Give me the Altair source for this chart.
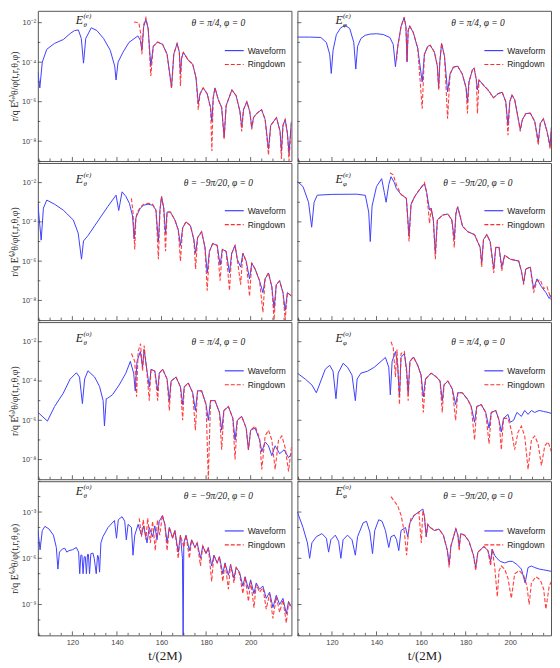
import altair as alt
import pandas as pd

BLUE = "#4040ff"
RED = "#ff2a2a"
TICK = "#444444"
SERIF = "Liberation Serif"
SANS = "Liberation Sans"

# ---------------- data: (t/(2M), log10 |E|) ----------------
P1_WAVE = [(104.5,-4.5),(105.4,-5.3),(106.5,-4.0),(108.5,-3.35),(112,-3.05),(116,-2.85),(119,-2.55),(121,-2.4),
 (122.7,-2.37),(124,-2.8),(125,-4.05),(126,-2.8),(128.5,-2.26),(131,-2.4),(134,-2.8),(137,-3.4),(139,-4.2),(139.6,-4.9),
 (140.5,-4.0),(142.7,-3.5),(145.4,-3.0),(149.4,-2.67),(150.5,-2.9),(151.2,-3.4),(152,-2.2),(153,-1.84),(154,-2.3),
 (155.2,-4.2),(156.3,-3.2),(158.2,-2.98),(160.5,-3.1),(162.5,-3.6),(164.5,-5.27),(165.5,-3.6),(167,-3.05),(168,-3.5),
 (168.5,-4.6),(169,-3.8),(169.8,-3.5),(172,-3.9),(174,-4.1),(175.5,-4.8),(176.5,-6.1),(177.3,-5.6),(178.7,-5.3),
 (180.5,-5.6),(182,-6.3),(182.6,-7.0),(183.2,-5.8),(184,-5.3),(185.5,-5.9),(187,-6.3),(188.1,-7.8),(189,-6.2),
 (191.6,-5.4),(193.5,-5.7),(195.2,-6.5),(196,-7.3),(196.8,-6.4),(198.3,-6.0),(199.6,-6.5),(200.5,-7.3),(201.3,-6.8),
 (202.7,-6.6),(204.9,-6.4),(206.5,-6.9),(208,-8.4),(209,-7.2),(211.6,-6.8),(213.2,-7.5),(213.8,-8.5),(214.5,-7.2),
 (215.5,-6.9),(216.5,-7.6),(217.2,-8.6),(218.3,-7.0)]
P1_RING = [(147.6,-1.97),(149.8,-2.0),(150.6,-2.5),(151.2,-3.6),(152,-2.1),(153,-1.75),(154,-2.3),(155.2,-4.7),
 (156.3,-3.2),(158.2,-2.98),(160.5,-3.1),(162.5,-3.6),(164.5,-5.35),(165.5,-3.6),(167,-3.05),(168,-3.5),(168.5,-5.2),
 (169,-3.8),(169.8,-3.5),(172,-3.9),(174,-4.1),(175.5,-4.8),(176.5,-6.4),(177.3,-5.6),(178.7,-5.3),(180.5,-5.6),
 (182,-6.3),(182.6,-8.5),(183.2,-5.8),(184,-5.3),(185.5,-5.9),(187,-6.3),(188.1,-7.9),(189,-6.2),(191.6,-5.4),
 (193.5,-5.7),(195.2,-6.5),(196,-7.5),(196.8,-6.4),(198.3,-6.0),(199.6,-6.5),(200.5,-7.4),(201.3,-6.8),(202.7,-6.6),
 (204.9,-6.4),(206.5,-6.9),(208,-8.7),(209,-7.2),(211.6,-6.8),(213.2,-7.5),(213.8,-8.9),(214.5,-7.2),(215.5,-6.9),
 (216.5,-7.6),(217.2,-9.0),(218.3,-7.0)]

P2_WAVE = [(104.5,-2.73),(110,-2.73),(115,-2.75),(117.5,-3.0),(119.0,-3.6),(119.7,-4.57),(120.5,-3.4),(122,-2.6),
 (124,-2.25),(126,-2.14),(128,-2.3),(129.8,-3.0),(130.7,-4.35),(131.5,-3.2),(133,-2.8),(134.9,-2.64),(137,-2.58),
 (140.1,-2.56),(143,-2.6),(146,-2.75),(147.5,-3.1),(148.5,-4.23),(149.5,-3.2),(151,-2.2),(152.4,-1.75),(153.2,-2.2),
 (153.7,-3.98),(154.2,-2.4),(154.9,-2.17),(156.5,-2.5),(158.5,-3.3),(160.5,-5.0),(161.5,-3.6),(163,-3.2),(164.1,-3.14),
 (166,-3.5),(167.3,-4.2),(167.9,-5.32),(168.4,-4.0),(169.2,-3.05),(170.5,-3.7),(171.9,-5.5),(173,-4.6),(174.5,-4.25),
 (176.4,-4.2),(178.5,-4.6),(180.2,-5.3),(180.8,-6.0),(181.5,-5.0),(183,-4.4),(183.8,-4.3),(184.8,-4.9),(185.3,-5.4),
 (186,-4.9),(188.2,-5.19),(190,-5.4),(192.5,-5.8),(194.5,-5.6),(196.4,-5.52),(198,-6.0),(199,-7.2),(199.8,-6.0),
 (200.8,-5.66),(202,-5.9),(203.5,-6.8),(204.5,-7.4),(205.5,-6.9),(207,-6.6),(209,-6.58),(211,-7.0),(212.6,-8.0),
 (213.5,-7.1),(214.9,-6.86),(216.5,-7.5),(217.9,-8.2),(218.5,-7.3)]
P2_RING = [(149.0,-3.9),(149.6,-3.2),(151,-2.2),(152.4,-1.72),(153.2,-2.2),(153.7,-4.0),(154.2,-2.4),(154.9,-2.17),
 (156.5,-2.5),(158.5,-3.3),(160.5,-6.36),(161.5,-3.6),(163,-3.2),(164.1,-3.14),(166,-3.5),(167.3,-4.2),(167.9,-5.4),
 (168.4,-4.0),(169.2,-3.05),(170.5,-3.7),(171.9,-6.86),(173,-4.6),(174.5,-4.25),(176.4,-4.2),(178.5,-4.6),(180.2,-5.3),
 (180.8,-6.6),(181.5,-5.0),(183,-4.4),(183.8,-4.3),(184.8,-4.9),(185.3,-6.6),(186,-4.9),(188.2,-5.19),(190,-5.4),
 (192.5,-5.8),(194.5,-5.6),(196.4,-5.52),(198,-6.0),(199,-7.7),(199.8,-6.0),(200.8,-5.66),(202,-5.9),(203.5,-6.8),
 (204.5,-7.5),(205.5,-6.9),(207,-6.6),(209,-6.58),(211,-7.0),(212.6,-8.2),(213.5,-7.1),(214.9,-6.86),(216.5,-7.5),
 (217.9,-8.4),(218.5,-7.3)]

P3_WAVE = [(104.5,-3.06),(106,-4.93),(107,-3.3),(108.5,-2.89),(112,-3.1),(115.9,-3.4),(120.4,-3.9),(122.6,-4.57),
 (124.1,-5.9),(125,-4.97),(127,-4.7),(130,-4.2),(133,-3.7),(136,-3.2),(139.6,-2.64),(140.8,-3.42),(142.3,-2.47),
 (144,-2.7),(145.6,-3.06),(147,-3.7),(147.7,-4.87),(148.5,-3.8),(149.2,-3.6),(150.5,-3.3),(152,-3.15),(154,-3.1),
 (156,-3.15),(157.5,-3.4),(158.6,-5.0),(159.3,-3.4),(160,-2.72),(161,-3.3),(161.8,-4.6),(162.5,-3.5),(164,-3.5),
 (166,-3.9),(167.5,-4.4),(168.5,-5.2),(169.5,-4.3),(171,-4.0),(173,-4.2),(174.5,-4.9),(175.3,-5.6),(176.2,-4.8),
 (178,-4.5),(179.5,-5.3),(180.5,-6.6),(181.5,-5.5),(183,-5.1),(185,-5.2),(186.3,-6.2),(187.3,-5.4),(189,-5.5),
 (190.5,-6.6),(191.5,-5.6),(193,-5.2),(194,-5.9),(195.5,-6.3),(196.5,-5.6),(198,-6.0),(199.5,-6.9),(200.5,-6.1),
 (202,-6.4),(204,-7.0),(205.5,-7.6),(206.5,-6.9),(208,-6.6),(209.5,-7.3),(210.5,-8.4),(211.5,-7.2),(213,-7.0),
 (214.5,-7.6),(215.5,-8.5),(216.5,-7.6),(218.5,-7.8)]
P3_RING = [(146.5,-2.8),(147.2,-3.5),(148,-5.4),(148.5,-3.8),(149.2,-3.5),(150.5,-3.25),(152,-3.1),(154,-3.05),
 (156,-3.1),(157.5,-3.4),(158.6,-5.9),(159.3,-3.4),(160,-2.7),(161,-3.3),(161.8,-5.5),(162.5,-3.5),(164,-3.5),
 (166,-3.9),(167.5,-4.4),(168.5,-6.0),(169.5,-4.3),(171,-4.0),(173,-4.2),(174.5,-4.9),(175.3,-6.4),(176.2,-4.8),
 (178,-4.5),(179.5,-5.3),(180.5,-7.5),(181.5,-5.5),(183,-5.1),(185,-5.2),(186.3,-7.0),(187.3,-5.4),(189,-5.5),
 (190.5,-7.5),(191.5,-5.6),(193,-5.2),(194,-5.9),(195.5,-7.2),(196.5,-5.6),(198,-6.0),(199.5,-7.8),(200.5,-6.1),
 (202,-6.4),(204,-7.0),(205.5,-8.6),(206.5,-6.9),(208,-6.6),(209.5,-7.3),(210.5,-9.0),(211.5,-7.2),(213,-7.0),
 (214.5,-7.6),(215.5,-9.0),(216.5,-7.6),(218.5,-7.8)]

P4_WAVE = [(104.5,-1.94),(107,-2.2),(109.5,-3.0),(110.9,-4.27),(112,-3.0),(113.4,-2.64),(120,-2.6),(131.2,-2.59),
 (135,-2.65),(136.5,-3.5),(137.2,-5.0),(138,-3.2),(140,-2.2),(142.3,-1.8),(143.5,-2.5),(144.3,-3.0),(145.5,-2.1),
 (146.5,-1.7),(148,-2.0),(148.9,-2.3),(151,-2.6),(153.4,-2.8),(154.6,-4.73),(155.5,-3.1),(157.1,-2.72),(159,-2.4),
 (161.5,-2.06),(162.5,-2.5),(163.8,-3.4),(164.5,-3.3),(165.5,-3.9),(166.4,-5.6),(167.3,-3.9),(169.7,-3.65),(172,-3.6),
 (173.8,-3.9),(174.9,-4.9),(175.6,-3.6),(176.4,-3.23),(177.5,-3.7),(178.6,-4.23),(181,-4.5),(184,-4.65),(186.5,-5.3),
 (187.2,-6.1),(188,-4.9),(189.5,-4.65),(191,-5.0),(192.6,-6.4),(193.5,-5.3),(195,-5.3),(196.2,-6.3),(197.5,-5.7),
 (200,-5.9),(203.8,-5.99),(205,-6.5),(206,-7.1),(207,-6.4),(209,-6.3),(210.5,-7.4),(212,-6.9),(214,-7.3),(216,-7.6),
 (217.5,-7.9),(218.5,-7.7)]
P4_RING = [(146.0,-1.5),(147.5,-1.6),(148.9,-2.1),(151,-2.6),(153.4,-2.8),(154.6,-5.0),(155.5,-3.1),(157.1,-2.72),
 (159,-2.4),(161.5,-2.0),(162.5,-2.5),(163.8,-4.07),(164.5,-3.3),(165.5,-3.9),(166.4,-5.9),(167.3,-3.9),(169.7,-3.65),
 (172,-3.6),(173.8,-3.9),(174.9,-5.3),(175.6,-3.6),(176.4,-3.23),(177.5,-3.7),(178.6,-4.23),(181,-4.5),(184,-4.65),
 (186.5,-5.3),(187.2,-6.3),(188,-4.9),(189.5,-4.65),(191,-5.0),(192.6,-6.6),(193.5,-5.3),(195,-5.3),(196.2,-6.5),
 (197.5,-5.7),(200,-5.9),(203.8,-5.99),(205,-6.5),(206,-7.2),(207,-6.4),(209,-6.3),(210.5,-7.6),(212,-7.0),
 (213.5,-6.95),(215,-7.4),(216.5,-7.3),(218.5,-8.0)]

P5_WAVE = [(104.5,-5.59),(108.8,-6.04),(112,-5.3),(115.9,-4.62),(119,-3.9),(121.8,-3.58),(123.2,-3.8),(124.5,-5.15),
 (125.5,-3.9),(127,-3.48),(130,-3.8),(132.2,-4.28),(133.8,-5.0),(134.4,-6.29),(135.2,-4.9),(135.9,-4.87),(138,-4.7),
 (141,-4.2),(144,-3.6),(146,-3.0),(147.5,-3.6),(148.2,-4.5),(149,-3.0),(150.5,-2.5),(151.5,-3.3),(152.2,-2.4),
 (153.5,-3.5),(154.5,-4.3),(155.3,-3.4),(157.0,-3.5),(158.3,-4.5),(159,-3.6),(160.5,-3.4),(162.5,-3.9),(163.5,-5.0),
 (164.3,-4.0),(166.5,-3.8),(168.5,-4.3),(169.5,-5.2),(170.2,-4.3),(172,-4.1),(174,-4.6),(175.2,-5.5),(176.2,-4.5),
 (178,-4.5),(180,-5.2),(181,-6.0),(182,-5.0),(184,-5.0),(186,-5.6),(187,-6.5),(188,-5.5),(190,-5.3),(192,-5.9),
 (193,-7.0),(194,-6.0),(196,-5.8),(198,-6.4),(199,-7.5),(200,-6.5),(202,-6.4),(204,-7.0),(205,-7.6),(206.5,-7.1),
 (208,-7.3),(209.5,-7.8),(211,-7.3),(213,-7.7),(215,-7.5),(217,-7.9),(218.5,-7.7)]
P5_RING = [(146.5,-2.6),(148,-3.0),(148.8,-4.8),(149.5,-2.5),(150.6,-2.1),(151.5,-3.5),(152.2,-2.2),(153.5,-3.6),
 (154.5,-5.0),(155.3,-3.4),(157.0,-3.5),(158.3,-5.0),(159,-3.6),(160.5,-3.4),(162.5,-3.9),(163.5,-5.5),(164.3,-4.0),
 (166.5,-3.8),(168.5,-4.3),(169.5,-6.0),(170.2,-4.3),(172,-4.1),(174,-4.6),(175.2,-6.5),(176.2,-4.5),(178,-4.5),
 (180,-5.2),(181,-9.0),(182,-5.0),(184,-5.0),(186,-5.6),(187,-7.5),(188,-5.5),(190,-5.3),(192,-5.9),(193,-8.0),
 (194,-6.0),(196,-5.8),(198,-6.4),(199,-7.5),(200,-6.5),(202,-6.3),(204,-6.9),(205,-8.5),(206.5,-6.8),(208,-6.5),
 (209.5,-7.0),(211,-8.5),(212.5,-7.0),(214,-6.8),(215.5,-7.4),(217,-8.6),(218.5,-7.2)]

P6_WAVE = [(104.5,-3.6),(108,-3.9),(111,-4.2),(113,-4.6),(115,-4.0),(117,-3.4),(119,-3.2),(120.5,-3.5),(121.8,-4.9),
 (122.8,-3.6),(125,-3.1),(127,-3.3),(129,-3.7),(130.5,-5.0),(131.3,-3.9),(133,-3.6),(136,-3.5),(139,-3.3),(142,-3.0),
 (144,-2.8),(145.5,-3.3),(146.2,-4.7),(147,-3.0),(148.5,-2.5),(149.5,-3.2),(150.3,-4.8),(151,-2.8),(152.5,-2.6),
 (153.5,-3.4),(154.2,-4.6),(155,-3.0),(156.6,-2.78),(158.5,-3.2),(160,-3.7),(161,-4.8),(162,-3.9),(164.5,-3.6),
 (166.7,-3.78),(168.5,-4.0),(169.5,-5.0),(170.3,-4.2),(172,-4.0),(174,-4.4),(175.5,-5.2),(176.5,-4.6),(178.5,-4.6),
 (180.8,-4.92),(182.5,-5.3),(184,-6.1),(185,-5.3),(187,-5.2),(189,-5.6),(190.5,-6.4),(191.5,-5.6),(193.5,-5.5),
 (195,-6.0),(196,-6.6),(197,-5.9),(199,-5.7),(200,-6.1),(201.5,-6.0),(203,-5.6),(205,-5.8),(206.5,-5.5),(208,-5.7),
 (209.5,-5.5),(211,-5.6),(213,-5.5),(215,-5.55),(217,-5.6),(218.5,-5.65)]
P6_RING = [(146.5,-2.0),(147.5,-2.3),(148.5,-3.8),(149.2,-2.4),(150.3,-5.2),(151,-2.6),(152.5,-2.5),(153.5,-3.6),
 (154.2,-5.0),(155,-3.0),(156.6,-2.78),(158.5,-3.2),(160,-3.7),(161,-5.6),(162,-3.9),(164.5,-3.6),(166.7,-3.78),
 (168.5,-4.0),(169.5,-5.6),(170.3,-4.2),(172,-4.0),(174,-4.4),(175.5,-6.0),(176.5,-4.6),(178.5,-4.6),(180.8,-4.92),
 (182.5,-5.3),(184,-7.0),(185,-5.3),(187,-5.2),(189,-5.6),(190.5,-7.2),(191.5,-5.6),(193.5,-5.5),(195,-6.0),
 (196,-7.5),(197,-5.9),(199,-5.9),(200.5,-6.5),(202,-7.5),(203.5,-6.6),(205,-6.3),(206.5,-6.8),(208,-8.5),(209.5,-7.0),
 (211,-6.8),(212.5,-7.2),(214,-8.3),(215.5,-7.3),(217,-7.1),(218.5,-7.6)]

P7_WAVE = [(104.5,-4.18),(105.5,-5.45),(106.5,-4.2),(107.7,-3.93),(109.5,-4.1),(111.5,-4.5),(112.8,-5.3),(113.5,-6.7),
 (114.2,-5.6),(115.5,-5.4),(116.6,-5.35),(117.5,-5.6),(118.5,-5.5),(120,-5.45),(121.8,-5.3),(122.8,-5.6),(123.3,-7.0),
 (123.8,-5.8),(124.3,-5.8),(124.8,-7.0),(125.3,-5.9),(125.8,-5.9),(126.3,-7.0),(126.8,-5.75),(127.2,-5.75),(127.7,-7.0),
 (128.3,-5.7),(129.2,-5.66),(129.8,-6.0),(130.7,-7.0),(131.3,-5.8),(131.7,-5.9),(132.2,-6.9),(132.8,-5.0),(133.7,-4.6),
 (136,-4.0),(138.9,-3.55),(139.8,-4.7),(140.6,-3.5),(142.3,-3.3),(143.5,-3.6),(144.2,-4.8),(145,-3.8),(146.5,-4.0),
 (147.2,-5.8),(148,-4.5),(149.5,-3.8),(151,-4.5),(152,-3.9),(153.5,-5.0),(154.5,-4.0),(156,-4.6),(157,-3.9),(158,-4.8),
 (159,-3.6),(160.4,-3.23),(161.5,-3.8),(162.5,-5.0),(163.5,-4.0),(165,-4.7),(166,-4.2),(167.5,-5.6),(168.5,-4.5),
 (169.4,-6.0),(169.7,-11.5),(170,-5.0),(171,-4.5),(172.5,-5.5),(173.5,-4.8),(175,-5.3),(176,-5.0),(177.5,-6.0),
 (178.5,-5.2),(180,-5.7),(181,-5.3),(182.5,-6.5),(183.5,-5.8),(185,-6.3),(186,-5.9),(187.5,-7.0),(188.5,-6.3),
 (190,-7.1),(191,-6.4),(192.5,-7.3),(193.5,-6.6),(195,-6.9),(196.5,-7.8),(197.5,-7.2),(199,-8.0),(200,-7.4),
 (201.5,-8.3),(202.5,-7.6),(204,-8.0),(205.5,-7.8),(207,-8.6),(208.5,-8.2),(210,-9.2),(211.5,-8.4),(213,-9.0),
 (214.5,-8.6),(216,-9.6),(217,-8.8),(218.5,-9.2)]
P7_RING = [(150,-3.4),(151,-4.6),(151.8,-3.5),(153,-4.8),(153.8,-3.4),(155,-5.0),(156,-3.6),(157.2,-5.5),(158.2,-3.5),
 (159.2,-4.5),(160.4,-3.2),(161.5,-3.8),(162.5,-5.5),(163.5,-4.0),(165,-4.7),(166,-4.2),(167.5,-6.0),(168.5,-4.5),
 (170,-5.3),(171,-4.5),(172.5,-6.0),(173.5,-4.8),(175,-5.3),(176,-5.0),(177.5,-6.5),(178.5,-5.2),(180,-5.7),
 (181,-5.3),(182.5,-7.5),(183.5,-5.8),(185,-6.3),(186,-5.9),(187.5,-7.5),(188.5,-6.3),(190,-8.0),(191,-6.4),
 (192.5,-7.6),(193.5,-6.6),(195,-7.0),(196.5,-8.3),(197.5,-7.2),(199,-8.8),(200,-7.5),(201.5,-9.2),(202.5,-7.7),
 (204,-8.2),(205.5,-7.9),(207,-9.3),(208.5,-8.3),(210,-9.9),(211.5,-8.5),(213,-9.5),(214.5,-8.7),(216,-10.2),
 (217,-8.9),(218.5,-9.3)]

P8_WAVE = [(104.5,-3.0),(107,-4.0),(109,-5.0),(110,-6.0),(111,-5.0),(113,-4.6),(115.5,-4.4),(117.5,-4.7),(118.5,-5.6),
 (119.5,-4.8),(121.5,-4.5),(123,-4.9),(124,-6.0),(125,-4.8),(127,-4.5),(129,-4.8),(130.5,-5.8),(131.5,-4.6),(134,-3.7),
 (135.5,-3.6),(137,-4.3),(138.2,-5.7),(139.2,-4.2),(141,-3.5),(142.5,-3.6),(144,-4.2),(145.5,-5.3),(146.5,-4.6),
 (148,-4.5),(149,-4.8),(150,-5.5),(151,-4.2),(153,-4.0),(154,-4.6),(155,-3.7),(157,-3.2),(159,-3.0),(160.8,-2.8),
 (161.5,-3.3),(162.3,-4.6),(163,-3.8),(163.8,-3.97),(166,-4.2),(168,-4.1),(170,-4.5),(171.8,-5.5),(172.6,-6.4),
 (173.4,-5.2),(175.6,-4.08),(176.5,-4.5),(177.1,-5.2),(177.8,-4.4),(179.5,-4.5),(181.5,-4.9),(183.5,-5.8),(184.5,-6.6),
 (185.5,-5.6),(188.2,-5.24),(190,-5.5),(191.2,-6.2),(191.9,-5.4),(193,-5.8),(194,-6.0),(195.5,-6.2),(197.5,-6.3),
 (199.5,-6.2),(201,-6.2),(203,-6.4),(205,-6.7),(206.7,-7.6),(208,-6.6),(209.5,-6.5),(211,-6.6),(213,-6.7),(215,-6.75),
 (218.5,-6.85)]
P8_RING = [(146.5,-2.0),(148,-2.3),(149.5,-2.6),(151,-3.2),(152.5,-4.3),(153.5,-5.8),(154.5,-4.0),(155.5,-3.4),
 (157,-3.2),(159,-3.0),(160.1,-5.0),(160.8,-2.9),(161.5,-3.3),(162.3,-4.6),(163,-3.8),(163.8,-3.97),(166,-4.2),
 (168,-4.1),(170,-4.5),(171.8,-5.5),(172.6,-6.6),(173.4,-5.2),(175.6,-4.08),(176.5,-4.5),(177.1,-5.5),(177.8,-4.4),
 (179.5,-4.5),(181.5,-4.9),(183.5,-5.8),(184.5,-6.8),(185.5,-5.6),(188.2,-5.24),(190,-5.5),(191.2,-6.5),(191.9,-5.4),
 (193,-6.5),(194.2,-8.5),(195,-6.8),(196,-6.5),(197.5,-6.7),(199,-7.3),(200.5,-8.6),(202,-7.0),(204,-6.8),(206,-7.1),
 (207.5,-7.8),(208.5,-9.0),(209.5,-7.6),(211.5,-7.2),(213.5,-7.4),(215,-8.0),(216,-9.3),(217.5,-7.8),(218.5,-7.5)]

ANGLE_A = "θ = π/4, φ = 0"
ANGLE_B = "θ = −9π/20, φ = 0"

PANELS = [
    (P1_WAVE, P1_RING, "θ", "(e)", ANGLE_A), (P2_WAVE, P2_RING, "φ", "(e)", ANGLE_A),
    (P3_WAVE, P3_RING, "θ", "(e)", ANGLE_B), (P4_WAVE, P4_RING, "φ", "(e)", ANGLE_B),
    (P5_WAVE, P5_RING, "θ", "(o)", ANGLE_A), (P6_WAVE, P6_RING, "φ", "(o)", ANGLE_A),
    (P7_WAVE, P7_RING, "θ", "(o)", ANGLE_B), (P8_WAVE, P8_RING, "φ", "(o)", ANGLE_B),
]

# per row: log10 domain, plot height, decade ticks, labelled decades, annotation placement
ROW_LG = [(-9, -1.4), (-9, -1), (-9, -1), (-11, -1)]
ROW_H = [151, 158, 158, 155]
ROW_TICKS = [list(range(-9, -1)), list(range(-9, 0)), list(range(-9, 0)), list(range(-11, 0))]
ROW_LABELS = [[-2, -4, -6, -8], [-2, -4, -6, -8], [-2, -4, -6, -8], [-3, -6, -9]]
E_LG = [-1.85, -1.81, -1.81, -1.64]
ANG_LG = [-2.0, -2.0, -2.0, -1.95]
LEG_Y = [40, 48, 49, 50]

T_DOMAIN = [104.5, 218.3]
X_MAJOR = [120, 140, 160, 180, 200]
X_MINOR = [t for t in range(105, 220, 5) if t not in X_MAJOR]
COL_W = [255, 255]

SUP = str.maketrans("-0123456789", "⁻⁰¹²³⁴⁵⁶⁷⁸⁹")
YTITLE = {"(e)": "r/q E⁽ᵉ⁾θ/φ(t,r,θ,φ)", "(o)": "r/q E⁽ᵒ⁾θ/φ(t,r,θ,φ)"}


def label_expr(exps):
    parts = [f"abs(log(datum.value)/LN10 - ({e})) < 0.01 ? '10{str(e).translate(SUP)}'" for e in exps]
    return " : ".join(parts) + " : ''"


def panel(idx):
    wave, ring, comp, kind, angle = PANELS[idx]
    r, c = divmod(idx, 2)
    lo, hi = ROW_LG[r]
    W, H = COL_W[c], ROW_H[r]
    xs = alt.Scale(domain=T_DOMAIN, nice=False, zero=False)
    ys = alt.Scale(type="log", domain=[10 ** lo, 10 ** hi], nice=False)
    if r == 3:
        xaxis = alt.Axis(values=X_MAJOR, ticks=False, domain=False, grid=False, labelOverlap=False,
                         labelFlush=False, title="t/(2M)")
    else:
        xaxis = None
    if c == 0:
        yaxis = alt.Axis(values=[10.0 ** e for e in ROW_LABELS[r]], ticks=False, domain=False, grid=False,
                         labelOverlap=False, labelExpr=label_expr(ROW_LABELS[r]), title=YTITLE[kind])
    else:
        yaxis = None
    X = alt.X("t:Q", scale=xs, axis=xaxis)
    Y = alt.Y("v:Q", scale=ys, axis=yaxis)

    dw = pd.DataFrame({"t": [p[0] for p in wave], "v": [10.0 ** p[1] for p in wave]})
    dr = pd.DataFrame({"t": [p[0] for p in ring], "v": [10.0 ** p[1] for p in ring]})
    lw = alt.Chart(dw).mark_line(color=BLUE, strokeWidth=1, clip=True).encode(x=X, y=Y)
    lr = alt.Chart(dr).mark_line(color=RED, strokeWidth=1.1, strokeDash=[4, 2], clip=True, opacity=0.9).encode(
        x=X, y=Y)

    # inward frame ticks (bottom and left edges)
    xmaj = alt.Chart(pd.DataFrame({"t": X_MAJOR})).mark_rule(color=TICK, strokeWidth=0.8).encode(
        x=X, y=alt.value(H), y2=alt.value(H - 4))
    xmin = alt.Chart(pd.DataFrame({"t": X_MINOR})).mark_rule(color=TICK, strokeWidth=0.8).encode(
        x=X, y=alt.value(H), y2=alt.value(H - 2.5))
    ymaj = alt.Chart(pd.DataFrame({"v": [10.0 ** e for e in ROW_LABELS[r]]})).mark_rule(
        color=TICK, strokeWidth=0.8).encode(y=Y, x=alt.value(0), x2=alt.value(4))
    ymin = alt.Chart(pd.DataFrame({"v": [10.0 ** e for e in ROW_TICKS[r] if e not in ROW_LABELS[r]]})).mark_rule(
        color=TICK, strokeWidth=0.8).encode(y=Y, x=alt.value(0), x2=alt.value(2.5))

    de = pd.DataFrame({"t": [123.2], "v": [10.0 ** E_LG[r]]})
    e_main = alt.Chart(de).mark_text(text="E", font=SERIF, fontStyle="italic", fontSize=12,
                                     align="center", baseline="middle", color="#222").encode(x=X, y=Y)
    e_sup = alt.Chart(de).mark_text(text=kind, font=SERIF, fontStyle="italic", fontSize=7, align="left",
                                    baseline="middle", dx=4, dy=-4, color="#222").encode(x=X, y=Y)
    e_sub = alt.Chart(de).mark_text(text=comp, font=SERIF, fontStyle="italic", fontSize=7, align="left",
                                    baseline="middle", dx=4, dy=5, color="#222").encode(x=X, y=Y)
    da = pd.DataFrame({"t": [185.5], "v": [10.0 ** ANG_LG[r]]})
    ang = alt.Chart(da).mark_text(text=angle, font=SERIF, fontStyle="italic", fontSize=9.5, align="center",
                                  baseline="middle", color="#222").encode(x=X, y=Y)

    one = pd.DataFrame({"k": [0]})
    y1 = LEG_Y[r]
    y2 = y1 + 14
    x0 = 188
    leg = [
        alt.Chart(one).mark_rule(color=BLUE, strokeWidth=1.2).encode(
            x=alt.value(x0), x2=alt.value(x0 + 19), y=alt.value(y1)),
        alt.Chart(one).mark_rule(color=RED, strokeWidth=1.2, strokeDash=[4, 2]).encode(
            x=alt.value(x0), x2=alt.value(x0 + 19), y=alt.value(y2)),
        alt.Chart(one).mark_text(text="Waveform", font=SANS, fontSize=8.5, align="left", baseline="middle",
                                 color="#222").encode(x=alt.value(x0 + 23), y=alt.value(y1)),
        alt.Chart(one).mark_text(text="Ringdown", font=SANS, fontSize=8.5, align="left", baseline="middle",
                                 color="#222").encode(x=alt.value(x0 + 23), y=alt.value(y2)),
    ]
    return alt.layer(lw, lr, xmaj, xmin, ymaj, ymin, e_main, e_sup, e_sub, ang, *leg).properties(
        width=W, height=H)


rows = [alt.hconcat(panel(2 * r), panel(2 * r + 1), spacing=4) for r in range(4)]
chart = alt.vconcat(*rows, spacing=0).configure_view(
    stroke="#555", strokeWidth=1
).configure_axis(
    labelFont=SANS, labelFontSize=7.5, labelColor="#444",
    titleFont=SERIF, titleFontWeight="normal", titleColor="#222"
).configure_axisLeft(
    titleFontSize=10, titlePadding=2, labelPadding=2
).configure_axisBottom(
    titleFontSize=13, titlePadding=4, labelPadding=3
).properties(padding={"top": 0, "bottom": 2, "left": 0, "right": 0})

chart.save("out.html", embed_options={"renderer": "svg", "actions": False})
